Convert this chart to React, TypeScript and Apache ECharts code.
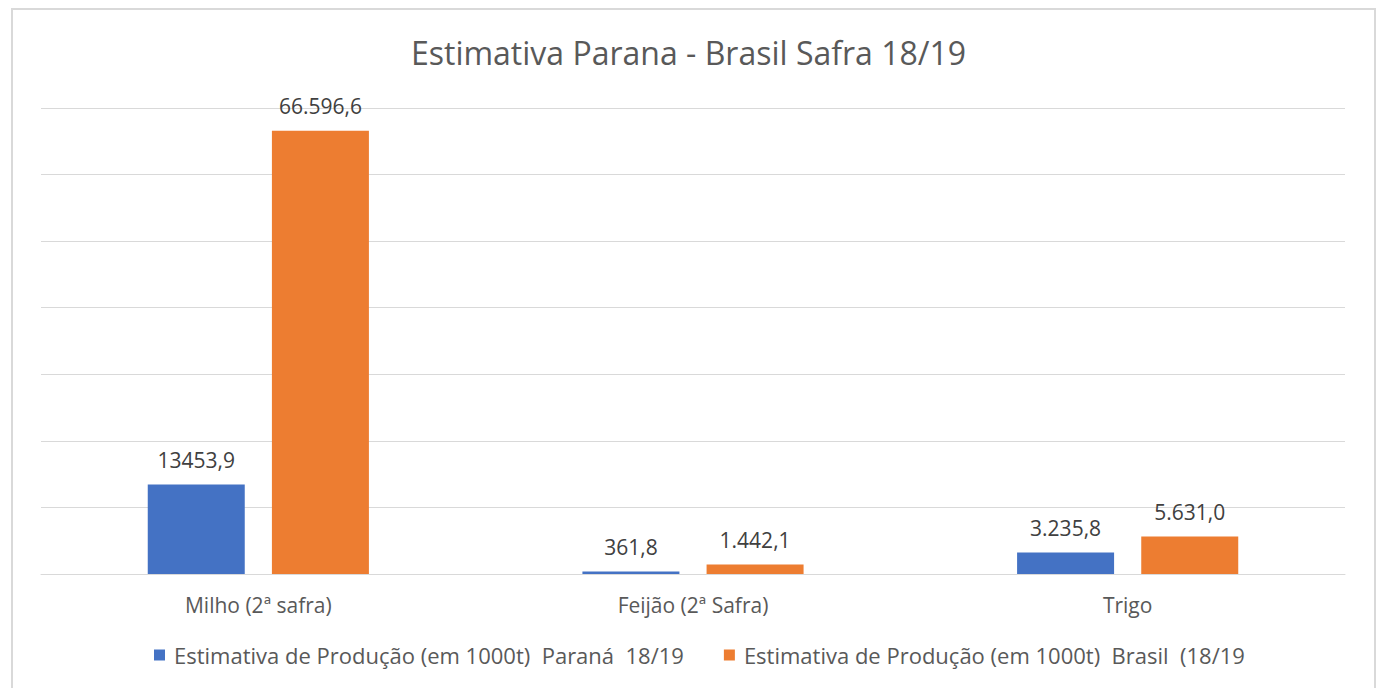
import React, { useEffect, useRef } from "react";
import * as echarts from "echarts";

const categories = ["Milho (2ª safra)", "Feijão (2ª Safra)", "Trigo"];
const seriesNames = [
  "Estimativa de Produção (em 1000t)  Paraná  18/19",
  "Estimativa de Produção (em 1000t)  Brasil  (18/19",
];
const paranaValues = [13453.9, 361.8, 3235.8];
const brasilValues = [66596.6, 1442.1, 5631.0];
const paranaLabels = ["13453,9", "361,8", "3.235,8"];
const brasilLabels = ["66.596,6", "1.442,1", "5.631,0"];

const FONT = "'Open Sans', 'Noto Sans', sans-serif";

export default function App() {
  const ref = useRef<HTMLDivElement>(null);
  useEffect(() => {
    if (!ref.current) return;
    const chart = echarts.init(ref.current, undefined, { renderer: "svg" });
    const labelStyle = {
      show: true,
      position: "top" as const,
      distance: 14,
      color: "#404040",
      fontSize: 21,
      fontFamily: FONT,
    };
    chart.setOption({
      animation: false,
      backgroundColor: "#ffffff",
      textStyle: { fontFamily: FONT },
      graphic: [
        {
          type: "rect",
          shape: { x: 12, y: 9, width: 1363, height: 690 },
          style: { fill: "none", stroke: "#d9d9d9", lineWidth: 2 },
          silent: true,
        },
      ],
      title: {
        text: "Estimativa Parana - Brasil Safra 18/19",
        left: "center",
        top: 31,
        textStyle: {
          fontSize: 32,
          fontWeight: "normal",
          color: "#595959",
          fontFamily: FONT,
        },
      },
      legend: {
        bottom: 17,
        left: 149,
        itemWidth: 11,
        itemHeight: 11,
        itemGap: 40,
        icon: "rect",
        textStyle: {
          fontSize: 22,
          color: "#595959",
          fontFamily: FONT,
          padding: [0, 0, 0, 4],
        },
        data: seriesNames,
      },
      grid: { left: 41, right: 32, top: 108, bottom: 114 },
      xAxis: {
        type: "category",
        data: categories,
        axisLine: { lineStyle: { color: "#d9d9d9", width: 1 } },
        axisTick: { show: false },
        axisLabel: { fontSize: 21, color: "#595959", margin: 20, fontFamily: FONT },
      },
      yAxis: {
        type: "value",
        min: 0,
        max: 70000,
        interval: 10000,
        axisLabel: { show: false },
        axisLine: { show: false },
        axisTick: { show: false },
        splitLine: { lineStyle: { color: "#d9d9d9", width: 1 } },
      },
      series: [
        {
          name: seriesNames[0],
          type: "bar",
          data: paranaValues,
          itemStyle: { color: "#4472c4" },
          barWidth: 97,
          barGap: "28%",
          label: { ...labelStyle, formatter: (p: any) => paranaLabels[p.dataIndex] },
        },
        {
          name: seriesNames[1],
          type: "bar",
          data: brasilValues,
          itemStyle: { color: "#ed7d31" },
          barWidth: 97,
          label: { ...labelStyle, formatter: (p: any) => brasilLabels[p.dataIndex] },
        },
      ],
    });
    return () => chart.dispose();
  }, []);
  return (
    <div
      ref={ref}
      style={{ position: "fixed", left: 0, top: 0, width: 1377, height: 688 }}
    />
  );
}
